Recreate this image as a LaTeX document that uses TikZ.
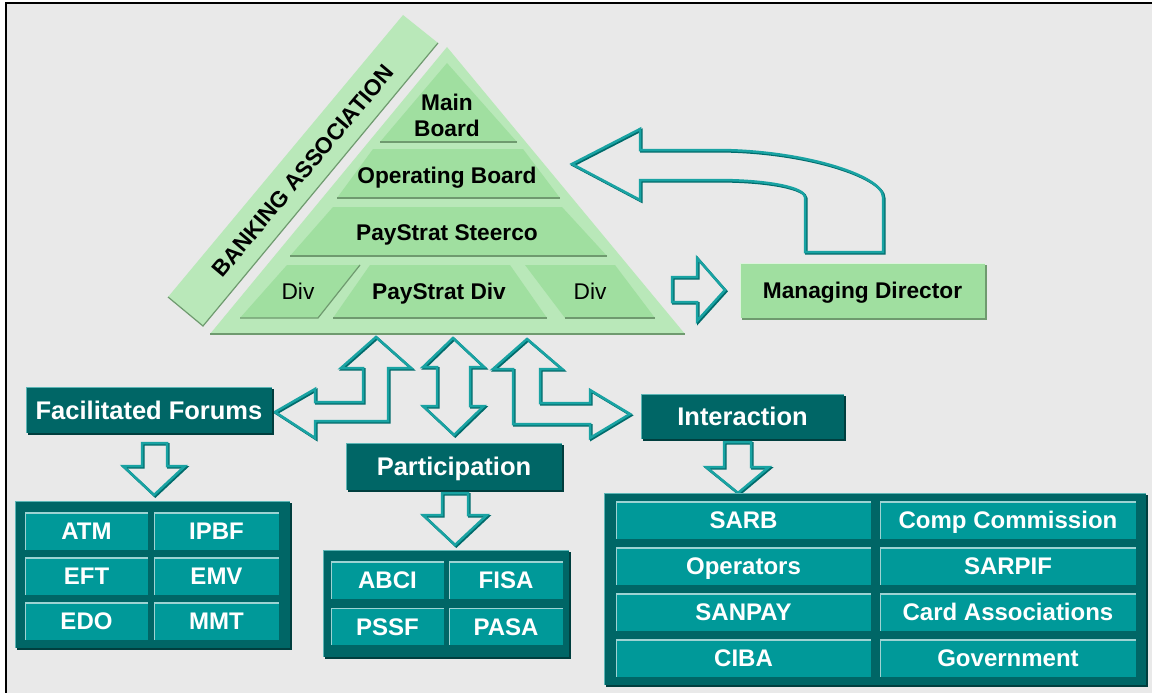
\documentclass[tikz,border=0pt]{standalone}
\usepackage{fontspec}
\setmainfont{Liberation Sans}
\usetikzlibrary{shadows}
\definecolor{bggray}{HTML}{E9E9E9}
\definecolor{palegreen}{HTML}{B9E8B9}
\definecolor{tiergreen}{HTML}{A0DFA0}
\definecolor{greenshade}{HTML}{6F9A6F}
\definecolor{boxteal}{HTML}{006666}
\definecolor{cellteal}{HTML}{009999}
\definecolor{edgeteal}{HTML}{5CB5B5}
\definecolor{arrowteal}{HTML}{19A3A3}
\definecolor{arrowdark}{HTML}{006B6B}
\definecolor{darkshade}{HTML}{003E3E}
\newcommand{\boldsize}[1]{\fontsize{#1}{26}\selectfont\bfseries}

\begin{document}
\begin{tikzpicture}[x=1pt, y=-1pt,
  bevel/.style={path picture={\draw[#1, line width=2.4] (path picture bounding box.south west) -- (path picture bounding box.north west) -- (path picture bounding box.north east);}},
  tealshadow/.style={drop shadow={shadow xshift=2pt, shadow yshift=-2pt, fill=darkshade, opacity=1}},
  head/.style={fill=boxteal, text=white, font=\boldsize{25.5}, inner sep=0pt, text height=18.3, text depth=0,
    bevel=edgeteal, tealshadow},
  grid/.style={fill=boxteal, inner sep=0pt, bevel=edgeteal, tealshadow},
  cell/.style={fill=cellteal, text=white, font=\boldsize{24}, minimum height=37, inner sep=0pt,
    text height=17.2, text depth=0, bevel=edgeteal!60!white},
  tierlabel/.style={font=\boldsize{22.7}, inner sep=0pt},
  divlabel/.style={font=\fontsize{22.7}{26}\selectfont, inner sep=0pt},
  shadeline/.style={greenshade, line width=1.2},
  blockarrow/.style={draw=arrowteal, line width=2.5, line join=miter,
    preaction={draw=arrowdark, line width=2.5, transform canvas={shift={(1.3pt,-1.3pt)}}}},
  mdbox/.style={fill=tiergreen, font=\boldsize{22.7}, inner sep=0pt, text height=16.3, text depth=0,
    bevel=palegreen!50!white, drop shadow={shadow xshift=2pt, shadow yshift=-2pt, fill=greenshade, opacity=1}}]
\useasboundingbox (0,0) rectangle (1152,693);
\fill[white] (0,0) rectangle (1152,693);
\fill[bggray] (6,3) rectangle (1152,693);
\draw[line width=1.5] (6,693) -- (6,3) -- (1152,3);

\fill[palegreen] (168,297) -- (403,15) -- (438,43) -- (203,326) -- cycle;
\draw[shadeline] (438,43) -- (203,326) -- (168,297);
\node[tierlabel, rotate=50] (bank) at (303,171) {BANKING ASSOCIATION};

\fill[palegreen] (210,334) -- (447,47) -- (685,334) -- cycle;
\draw[shadeline] (210,334) -- (685,334);
\fill[tiergreen] (380,142) -- (447,63) -- (517,142) -- cycle;
\draw[shadeline] (380,142) -- (517,142);
\fill[tiergreen] (337,198) -- (373,149) -- (523,149) -- (560,198) -- cycle;
\draw[shadeline] (337,198) -- (560,198);
\fill[tiergreen] (290,256) -- (333,207) -- (562,207) -- (607,256) -- cycle;
\draw[shadeline] (290,256) -- (607,256);
\fill[tiergreen] (240,318) -- (287,265) -- (360,265) -- (318,318) -- cycle;
\draw[shadeline] (240,318) -- (318,318) -- (360,265);
\fill[tiergreen] (333,318) -- (370,265) -- (510,265) -- (547,318) -- cycle;
\draw[shadeline] (333,318) -- (547,318);
\fill[tiergreen] (565,318) -- (525,265) -- (615,265) -- (655,318) -- cycle;
\draw[shadeline] (565,318) -- (655,318);

\node[tierlabel, align=center] (main) at (447,115) {Main\\Board};
\node[tierlabel, anchor=base] (opboard) at (447,183) {Operating Board};
\node[tierlabel, anchor=base] (steerco) at (447,240) {PayStrat Steerco};
\node[divlabel, anchor=base] (divl) at (298,299) {Div};
\node[tierlabel, anchor=base] (psdiv) at (439,299) {PayStrat Div};
\node[divlabel, anchor=base] (divr) at (590,299) {Div};

\draw[blockarrow] (572,164) -- (640,129) -- (640,150) -- (717,150)
  .. controls (800,150) and (883,175) .. (883,197) -- (883,252) -- (805,252) -- (805,197)
  .. controls (805,188) and (770,180) .. (717,180) -- (640,180) -- (640,200) -- cycle;
\draw[blockarrow] (672,277) -- (697,277) -- (697,258) -- (725,290) -- (697,321) -- (697,302) -- (672,302) -- cycle;
\node[mdbox, minimum width=245, minimum height=55] (md) at (862.5,290.5) {Managing Director};

\draw[blockarrow] (376,337) -- (411,368) -- (388,368) -- (388,421) -- (315,421) -- (315,438) -- (275,412)
  -- (315,389) -- (315,402) -- (363,402) -- (363,368) -- (341,368) -- cycle;
\draw[blockarrow] (453,338) -- (484,367) -- (470,367) -- (470,406) -- (484,406) -- (454,435)
  -- (423,406) -- (437,406) -- (437,367) -- (423,367) -- cycle;
\draw[blockarrow] (527,339) -- (562,369) -- (540,369) -- (540,403) -- (590,403) -- (590,390) -- (630,414)
  -- (590,438) -- (590,424) -- (513,424) -- (513,369) -- (493,369) -- cycle;

\node[head, minimum width=246, minimum height=46] (forums) at (149,410) {Facilitated Forums};
\node[head, minimum width=216, minimum height=47] (part) at (454,466.5) {Participation};
\node[head, minimum width=203, minimum height=45] (inter) at (742.5,416.5) {Interaction};

\draw[blockarrow] (142,443) -- (167,443) -- (167,466) -- (185,466) -- (154,495) -- (123,466) -- (142,466) -- cycle;
\draw[blockarrow] (442,493) -- (468,493) -- (468,515) -- (487,515) -- (455,545) -- (423,515) -- (442,515) -- cycle;
\draw[blockarrow] (724,442) -- (751,442) -- (751,467) -- (769,467) -- (738,493) -- (706,467) -- (724,467) -- cycle;

\node[grid, minimum width=275, minimum height=147] (forumgrid) at (152.5,574.5) {};
\node[cell, minimum width=123] (atm) at (86.5,531) {ATM};
\node[cell, minimum width=125] (ipbf) at (216.5,531) {IPBF};
\node[cell, minimum width=123] (eft) at (86.5,576) {EFT};
\node[cell, minimum width=125] (emv) at (216.5,576) {EMV};
\node[cell, minimum width=123] (edo) at (86.5,621) {EDO};
\node[cell, minimum width=125] (mmt) at (216.5,621) {MMT};

\node[grid, minimum width=246, minimum height=107] (partgrid) at (446,603.5) {};
\node[cell, minimum width=113] (abci) at (387.5,580) {ABCI};
\node[cell, minimum width=114] (fisa) at (506,580) {FISA};
\node[cell, minimum width=113] (pssf) at (387.5,626.5) {PSSF};
\node[cell, minimum width=114] (pasa) at (506,626.5) {PASA};

\node[grid, minimum width=542, minimum height=192] (intergrid) at (875,589) {};
\node[cell, minimum width=255] (sarb) at (743.5,520) {SARB};
\node[cell, minimum width=256] (comp) at (1008,520) {Comp Commission};
\node[cell, minimum width=255] (oper) at (743.5,566) {Operators};
\node[cell, minimum width=256] (sarpif) at (1008,566) {SARPIF};
\node[cell, minimum width=255] (sanpay) at (743.5,612) {SANPAY};
\node[cell, minimum width=256] (card) at (1008,612) {Card Associations};
\node[cell, minimum width=255] (ciba) at (743.5,658) {CIBA};
\node[cell, minimum width=256] (gov) at (1008,658) {Government};
\end{tikzpicture}
\end{document}
